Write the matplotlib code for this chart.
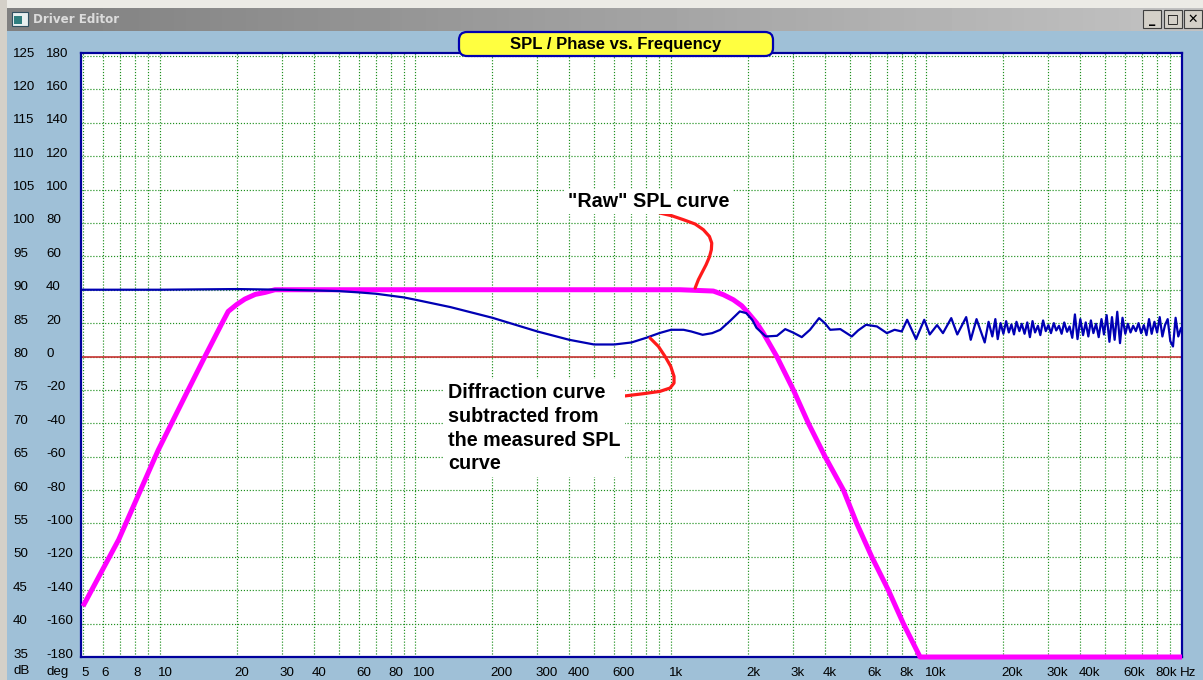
import matplotlib
matplotlib.use("Agg")
import matplotlib.pyplot as plt
from matplotlib import transforms
from matplotlib.patches import Rectangle, FancyBboxPatch

W, H = 1203, 680

# "Raw" SPL curve (magenta): frequency in Hz, level in dB
raw_freq = [5, 6.9, 9.85, 12.9, 15.0, 17.5, 18.5, 20, 21.5, 23.6, 25.8, 28.2,
            1085, 1465, 1604, 1754, 1892, 2008, 2166, 2299, 2595, 3013, 3450,
            4010, 4731, 5335, 6107, 7095, 8120, 9440, 100000]
raw_db = [42.6, 52.6, 66.0, 75.0, 80.0, 85.0, 86.75, 87.8, 88.6, 89.3, 89.6, 90.0,
          90.0, 89.8, 89.25, 88.5, 87.6, 86.5, 85.0, 83.5, 80.0, 75.0, 70.0,
          65.0, 60.0, 55.0, 50.0, 45.0, 40.0, 35.0, 35.0]

# measured SPL minus diffraction (blue)
diff_freq = [5, 10, 20, 30, 40, 50, 60, 70, 80, 90, 100, 137, 200, 300, 400, 500,
             600, 700, 800, 900, 1000, 1120, 1200, 1330, 1450, 1560, 1700, 1860,
             1970, 2080, 2160, 2350, 2600, 2800, 3000, 3250, 3500, 3800, 4000,
             4200, 4600, 5100, 5400, 5800, 6400, 7000, 7500, 8000, 8400, 9100,
             9800, 10300, 11000, 11600, 12500, 13200, 14300, 14900, 15700, 16900,
             17500, 18100, 18600, 19000, 19500, 20000, 20500, 21000, 21500, 22000,
             22500, 23100, 23600, 24200, 24800, 25400, 26000, 26600, 27300, 27900,
             28600, 29300, 30000, 30700, 31500, 32200, 33000, 33800, 34600, 35500,
             36300, 37200, 38100, 39000, 40000, 41000, 42000, 43000, 44000, 45000,
             46100, 47200, 48400, 49500, 50700, 52000, 53200, 54500, 55800, 57200,
             58500, 60000, 61400, 62900, 64400, 66000, 67600, 69200, 70900, 72600,
             74300, 76100, 78000, 79900, 81800, 83800, 85800, 87900, 90000, 92200,
             94400, 96700, 99000]
diff_db = [90.0, 90.0, 90.1, 90.0, 89.9, 89.8, 89.6, 89.4, 89.1, 88.85, 88.5, 87.4,
           85.8, 83.75, 82.5, 81.8, 81.8, 82.1, 82.8, 83.5, 84.0, 84.0, 83.75,
           83.25, 83.5, 84.0, 85.3, 86.75, 86.5, 85.5, 84.3, 83.0, 83.1, 84.1,
           83.6, 82.9, 84.0, 85.75, 85.0, 84.0, 84.1, 83.0, 83.9, 84.75, 84.5,
           83.5, 84.0, 83.75, 85.5, 82.6, 85.5, 83.3, 84.7, 83.5, 85.75, 83.3,
           85.9, 82.5, 85.6, 82.1,
           85.2, 83.0, 85.6, 82.6, 85.0, 83.4, 85.3, 83.6, 84.8, 83.3,
           85.2, 83.8, 84.9, 83.4, 85.1, 82.9, 85.3, 83.6, 84.6, 83.2,
           85.4, 83.8, 84.7, 83.5, 85.0, 83.9, 84.6, 83.4, 85.1, 83.7,
           84.5, 82.8, 86.3, 82.6, 85.6, 83.2, 85.1, 83.0, 85.4, 83.5,
           84.9, 82.9, 85.6, 83.3, 86.2, 82.2, 85.9, 82.5, 86.7, 82.0,
           85.8, 83.4, 84.9, 83.6, 84.6, 83.8, 85.0, 83.5, 84.7, 83.2,
           85.6, 83.4, 85.2, 83.6, 85.9, 83.0, 84.7, 85.6, 82.3, 81.5,
           85.8, 83.0, 84.2]

# hand drawn pointer lines
raw_arrow_freq = [906, 1007, 1118, 1243, 1339, 1414, 1444, 1439, 1414, 1372, 1320,
                  1280, 1243]
raw_arrow_db = [101.48, 101.08, 100.49, 99.84, 98.99, 97.98, 96.99, 95.99, 94.9,
                93.74, 92.5, 91.5, 90.25]
diff_arrow_freq = [578, 672, 780, 906, 992, 1028, 1028, 998, 948, 893, 828]
diff_arrow_db = [73.79, 74.13, 74.43, 74.78, 75.28, 76.03, 77.02, 78.52, 80.01,
                 81.51, 82.77]

# axis labels
x_major = [5, 6, 8, 10, 20, 30, 40, 60, 80, 100, 200, 300, 400, 600, 1000, 2000,
           3000, 4000, 6000, 8000, 10000, 20000, 30000, 40000, 60000, 80000, 100000]
x_labels = ["5", "6", "8", "10", "20", "30", "40", "60", "80", "100", "200", "300",
            "400", "600", "1k", "2k", "3k", "4k", "6k", "8k", "10k", "20k", "30k",
            "40k", "60k", "80k", "Hz"]
x_minor = [7, 9, 50, 70, 90, 500, 700, 800, 900, 5000, 7000, 9000, 50000, 70000, 90000]
db_ticks = list(range(35, 126, 5))
deg_ticks = list(range(-180, 181, 20))

ident = transforms.IdentityTransform()


def box(x0, y0, x1, y1, **kw):
    # rectangle in screen pixels, top-left origin
    return Rectangle((x0, H - y1), x1 - x0, y1 - y0, transform=ident, **kw)


fig = plt.figure(figsize=(W / 100, H / 100), dpi=100)
fig.patch.set_facecolor("#9fc0d7")

# window chrome
fig.patches.append(box(0, 0, W, 8, facecolor="#ecebe6", edgecolor="none"))
fig.patches.append(box(0, 0, 7, H, facecolor="#d4d0c8", edgecolor="none"))
tb = fig.add_axes([7 / W, 1 - 31 / H, 1 - 7 / W, 23 / H])
tb.imshow([[0.50 + 0.26 * i / 99 for i in range(100)]], cmap="gray", vmin=0, vmax=1,
          aspect="auto", extent=(0, 1, 0, 1))
tb.axis("off")
fig.patches.append(box(12, 12, 28, 26, facecolor="#e8f0f0", edgecolor="#305060", lw=0.8))
fig.patches.append(box(14, 16, 22, 24, facecolor="#2f7f7f", edgecolor="none"))
fig.text(33 / W, 1 - 19.5 / H, "Driver Editor", fontsize=8.6, fontweight="bold",
         color="#dcdcdc", family="DejaVu Sans", va="center", ha="left")
for bx0, sym in [(1143, "_"), (1164, "\u25a1"), (1184, "\u2715")]:
    fig.patches.append(box(bx0, 10, bx0 + 18, 28, facecolor="#d4d0c8",
                           edgecolor="#404040", lw=0.8))
    fig.text((bx0 + 9) / W, 1 - 19 / H, sym, fontsize=9, fontweight="bold",
             ha="center", va="center", family="DejaVu Sans")

# plot area
ax = fig.add_axes([81 / W, 1 - 657 / H, (1182 - 81) / W, (657 - 53) / H])
ax.set_facecolor("white")
ax.set_xscale("log")
ax.set_xlim(4.91, 100000)
ax.set_ylim(35, 125.45)
ax.set_xticks(x_major, x_labels)
ax.set_xticks(x_minor, minor=True)
ax.set_xticklabels([], minor=True)
ax.set_yticks(db_ticks)
ax.set_yticklabels([])
ax.tick_params(which="both", length=0, labelsize=9.6, pad=7)
for lab in ax.get_xticklabels():
    lab.set_horizontalalignment("left")
    lab.set_family("Liberation Sans")
    lab.set_transform(lab.get_transform() +
                      transforms.ScaledTranslation(-2 / 100, 0, fig.dpi_scale_trans))
ax.grid(which="both", color="#1f901f", linestyle=(0, (1, 1.5)), linewidth=0.85)
for sp in ax.spines.values():
    sp.set_color("#00009c")
    sp.set_linewidth(1.6)

ax.axhline(80, color="#c83232", lw=1.2, zorder=2)
ax.plot(raw_freq, raw_db, color="#ff00ff", lw=3.6, zorder=3, clip_on=False,
        solid_capstyle="butt", solid_joinstyle="round")
ax.plot(diff_freq, diff_db, color="#0000b4", lw=1.6, zorder=4)
ax.plot(raw_arrow_freq, raw_arrow_db, color="#ff1a1a", lw=2.3, zorder=5,
        solid_capstyle="round", solid_joinstyle="round")
ax.plot(diff_arrow_freq, diff_arrow_db, color="#ff1a1a", lw=2.3, zorder=5,
        solid_capstyle="round", solid_joinstyle="round")

# y labels, two columns
ylab_tr = transforms.blended_transform_factory(fig.transFigure, ax.transData) + \
    transforms.ScaledTranslation(0, 2.5 / 100, fig.dpi_scale_trans)
for d, g in zip(db_ticks, deg_ticks):
    ax.text(13 / W, d, str(d), transform=ylab_tr, fontsize=9.6, ha="left",
            va="center", family="Liberation Sans", clip_on=False)
    ax.text(46 / W, d, str(g), transform=ylab_tr, fontsize=9.6, ha="left",
            va="center", family="Liberation Sans", clip_on=False)
fig.text(13 / W, 1 - 671.5 / H, "dB", fontsize=9.6, ha="left", va="center",
         family="Liberation Sans")
fig.text(46 / W, 1 - 671.5 / H, "deg", fontsize=9.6, ha="left", va="center",
         family="Liberation Sans")

# title box
fig.patches.append(FancyBboxPatch((459, H - 56), 314, 24, boxstyle="round,pad=0,rounding_size=8",
                                  transform=ident, facecolor="#ffff40",
                                  edgecolor="#0000b0", lw=1.6, zorder=10))
fig.text(616 / W, 1 - 44 / H, "SPL / Phase vs. Frequency", fontsize=12,
         fontweight="bold", ha="center", va="center", family="Liberation Sans",
         zorder=11)

# annotations
fig.text(568 / W, 1 - 201.5 / H, "\"Raw\" SPL curve", fontsize=14.2,
         fontweight="bold", ha="left", va="center", family="Liberation Sans",
         bbox=dict(facecolor="white", edgecolor="none", pad=2))
fig.text(448 / W, 1 - 383.5 / H,
         "Diffraction curve\nsubtracted from\nthe measured SPL\ncurve",
         fontsize=14.2, fontweight="bold", ha="left", va="top",
         family="Liberation Sans", linespacing=1.3,
         bbox=dict(facecolor="white", edgecolor="none", pad=3))

fig.savefig("out.png", dpi=100, facecolor=fig.get_facecolor())
